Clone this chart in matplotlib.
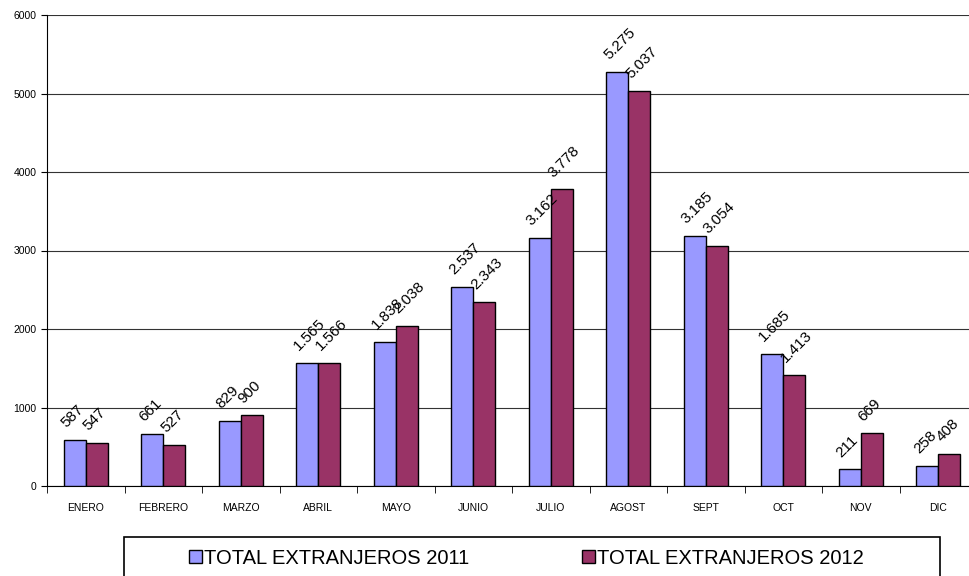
import matplotlib
matplotlib.use('Agg')
import matplotlib.pyplot as plt
from matplotlib.patches import Rectangle
import numpy as np

plt.rcParams['font.family'] = ['Liberation Sans', 'DejaVu Sans']

meses = ['ENERO', 'FEBRERO', 'MARZO', 'ABRIL', 'MAYO', 'JUNIO',
         'JULIO', 'AGOST', 'SEPT', 'OCT', 'NOV', 'DIC']
total_2011 = [587, 661, 829, 1565, 1838, 2537, 3162, 5275, 3185, 1685, 211, 258]
total_2012 = [547, 527, 900, 1566, 2038, 2343, 3778, 5037, 3054, 1413, 669, 408]
serie_names = ['TOTAL EXTRANJEROS 2011', 'TOTAL EXTRANJEROS 2012']
colores = ['#9999FF', '#993366']

def fmt(v):
    return '{:,}'.format(v).replace(',', '.')

fig = plt.figure(figsize=(9.69, 5.76), dpi=100)
# plot area runs a little past the right edge of the picture
ax = fig.add_axes([47/969, 90/576, 930/969, 471/576])

x = np.arange(len(meses))
w = 0.284
b1 = ax.bar(x - w/2, total_2011, w, color=colores[0], edgecolor='black', linewidth=1, label=serie_names[0], zorder=3)
b2 = ax.bar(x + w/2, total_2012, w, color=colores[1], edgecolor='black', linewidth=1, label=serie_names[1], zorder=3)

for bars, vals in [(b1, total_2011), (b2, total_2012)]:
    for r, v in zip(bars, vals):
        ax.annotate(fmt(v), (r.get_x(), v), xytext=(-3.5, 7), textcoords='offset points',
                    rotation=45, ha='left', va='bottom', fontsize=11, zorder=4)

ax.set_ylim(0, 6000)
ax.set_xlim(-0.5, len(meses) - 0.5)
ax.set_yticks(np.arange(0, 6001, 1000))
ax.yaxis.grid(True, color='#333333', linewidth=0.8, zorder=0)
ax.set_xticks(x)
ax.set_xticklabels(meses, fontsize=7.5)
ax.set_xticks(np.arange(-0.5, len(meses), 1), minor=True)
ax.tick_params(axis='x', which='major', length=0, pad=12)
ax.tick_params(axis='x', which='minor', length=5, direction='out')
ax.tick_params(axis='y', labelsize=7.5, length=4)
ax.spines['top'].set_visible(False)
ax.spines['right'].set_visible(False)

# legend box
fig.patches.append(Rectangle((124/969, -0.05), 816/969, 1 - 537/576 + 0.05,
                             transform=fig.transFigure, facecolor='white',
                             edgecolor='black', linewidth=1.2))
leg = fig.legend(loc='center', bbox_to_anchor=(526/969, 1 - 558/576),
                 ncol=2, fontsize=14.5, frameon=False,
                 handlelength=0.65, handleheight=0.65,
                 handletextpad=0.1, columnspacing=5.6)

fig.savefig('out.png', dpi=100)
